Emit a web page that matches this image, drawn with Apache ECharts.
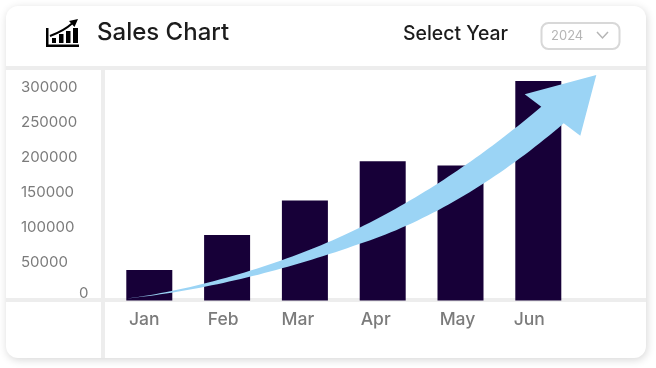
<!DOCTYPE html>
<html><head><meta charset="utf-8">
<style>html,body{margin:0;padding:0;background:#fff}#c{width:656px;height:368px}</style>
<script src="https://cdn.jsdelivr.net/npm/echarts@6/dist/echarts.min.js"></script>
</head><body><div id="c"></div>
<script>
const months = ['Jan','Feb','Mar','Apr','May','Jun'];
const sales = [43500,93500,143000,199000,193000,313500];
const title = 'Sales Chart';
const selectLabel = 'Select Year';
const year = '2024';
const FONT = 'Inter';
const LINE = '#ededed';
const labelShift = [10,8,14,14,6,18];

function curve(p0,p1,p2,p3){
  const out=[];
  for(let i=0;i<=40;i++){
    const t=i/40,u=1-t;
    out.push([0,1].map(k=>u*u*u*p0[k]+3*u*u*t*p1[k]+3*u*t*t*p2[k]+t*t*t*p3[k]));
  }
  return out;
}
const arrowOutline = [
  ...curve([127,298.5],[200,289],[290,262],[359,228]),
  ...curve([359,228],[430,193],[490,150],[541.3,106.7]),
  [524.7,94.3],[596.3,75],[580.3,135.7],
  ...curve([563.7,123.3],[500,178],[430,221],[359,244]),
  ...curve([359,244],[280,272],[200,291],[127,298.5])
];

const chart = echarts.init(document.getElementById('c'),null,{renderer:'canvas'});
const rule = (x1,y1,x2,y2)=>({type:'line',z:-1,shape:{x1,y1,x2,y2},style:{stroke:LINE,lineWidth:4}});
const ink = (x,y,width,height)=>({type:'rect',z:10,shape:{x,y,width,height},style:{fill:'#000'}});
chart.setOption({
  animation:false,
  backgroundColor:'#ffffff',
  grid:{left:110.4,width:466.8,top:55.5,height:245},
  xAxis:{type:'category',
    data:months.map((m,i)=>({value:m,textStyle:{padding:[0,labelShift[i],0,0]}})),
    axisLine:{show:false},axisTick:{show:false},
    axisLabel:{color:'#7b7b7b',fontFamily:FONT,fontSize:17.5,fontWeight:500,margin:10.5,interval:0}},
  yAxis:{type:'value',min:0,max:350000,interval:50000,
    splitLine:{show:false},axisLine:{show:false},axisTick:{show:false},
    axisLabel:{color:'#7b7b7b',fontFamily:FONT,fontSize:15,align:'left',margin:89.4,showMaxLabel:false,
      formatter:v=>v===0?'{z|0}':'{n|'+v+'}',
      rich:{z:{fontFamily:FONT,fontSize:15,color:'#7b7b7b',padding:[0,0,15,58]},
            n:{fontFamily:FONT,fontSize:15,color:'#7b7b7b',padding:[0,0,7,0]}}}},
  series:[{type:'bar',data:sales,barWidth:46,itemStyle:{color:'#170038'}}],
  graphic:{elements:[
    {type:'rect',z:-2,shape:{x:6,y:6,width:640,height:352,r:12},
      style:{fill:'#fff',shadowBlur:8,shadowColor:'rgba(0,0,0,0.16)',shadowOffsetX:1,shadowOffsetY:2}},
    rule(6,68,646,68),
    rule(103,70,103,358),
    rule(6,300,646,300),
    {type:'text',z:10,style:{text:title,x:97,y:33,fill:'#1c1c1c',font:'500 24px '+FONT,verticalAlign:'middle'}},
    {type:'text',z:10,style:{text:selectLabel,x:403,y:34,fill:'#1c1c1c',font:'500 19.4px '+FONT,verticalAlign:'middle'}},
    {type:'rect',z:10,shape:{x:541.5,y:23,width:78,height:26,r:7},style:{fill:'#fff',stroke:'#d8d8d8',lineWidth:2}},
    {type:'text',z:11,style:{text:year,x:551,y:36,fill:'#b5b5b5',font:'13px '+FONT,verticalAlign:'middle'}},
    {type:'polyline',z:11,shape:{points:[[597,32],[602.5,38],[608,32]]},style:{stroke:'#b5b5b5',lineWidth:1.5,fill:null}},
    ink(46,28,2.5,19), ink(46,44.5,33,2.5),
    ink(52,38,4,5), ink(59,34,4.5,9), ink(66,31,4.5,12), ink(73,28,5,15),
    {type:'bezierCurve',z:10,shape:{x1:50,y1:36,cpx1:58,cpy1:33,cpx2:66,cpy2:29,x2:72,y2:23.5},style:{stroke:'#000',lineWidth:2,fill:null}},
    {type:'polygon',z:10,shape:{points:[[78,19],[74.5,27],[69,21]]},style:{fill:'#000'}},
    {type:'polygon',z:20,shape:{points:arrowOutline},style:{fill:'#9bd4f5'}}
  ]}
});
</script></body></html>
